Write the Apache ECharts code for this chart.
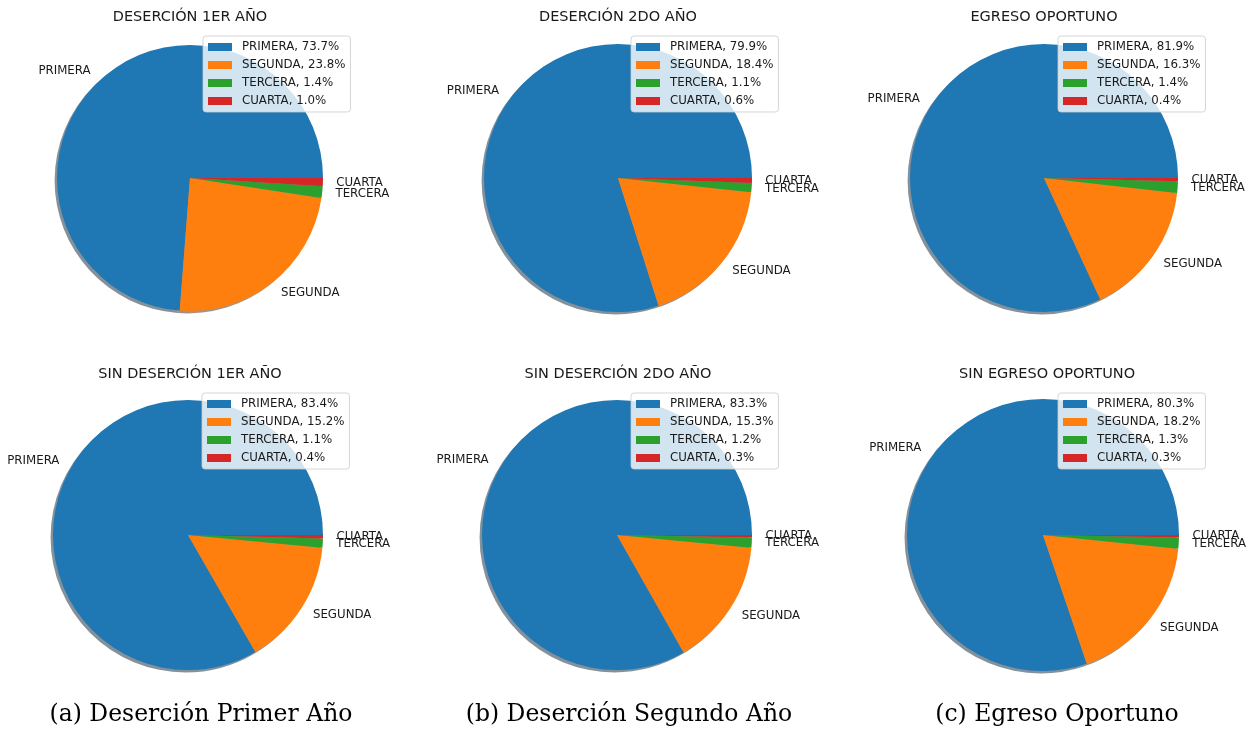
<!DOCTYPE html>
<html>
<head>
<meta charset="utf-8">
<script src="https://cdn.jsdelivr.net/npm/echarts@6/dist/echarts.min.js"></script>
<style>
  html, body { margin: 0; padding: 0; background: #ffffff; }
  #chart { width: 1251px; height: 732px; }
</style>
</head>
<body>
<div id="chart"></div>
<script>
// Categories shared by every pie
const categories = ['PRIMERA', 'SEGUNDA', 'TERCERA', 'CUARTA'];

// Shares (%) per group
const desercion1erAno    = [73.7, 23.8, 1.4, 1.0];
const desercion2doAno    = [79.9, 18.4, 1.1, 0.6];
const egresoOportuno     = [81.9, 16.3, 1.4, 0.4];
const sinDesercion1erAno = [83.4, 15.2, 1.1, 0.4];
const sinDesercion2doAno = [83.3, 15.3, 1.2, 0.3];
const sinEgresoOportuno  = [80.3, 18.2, 1.3, 0.3];

const panelTitles = [
  'DESERCIÓN 1ER AÑO', 'DESERCIÓN 2DO AÑO', 'EGRESO OPORTUNO',
  'SIN DESERCIÓN 1ER AÑO', 'SIN DESERCIÓN 2DO AÑO', 'SIN EGRESO OPORTUNO'
];
const captions = ['(a) Deserción Primer Año', '(b) Deserción Segundo Año', '(c) Egreso Oportuno'];

const colors = ['#1f77b4', '#ff7f0e', '#2ca02c', '#d62728'];

// Layout of each panel: pie centre, radius, legend box corner, title centre
const panels = [
  { values: desercion1erAno,    title: panelTitles[0], cx: 190, cy: 178, r: 133, lx: 203, ly: 36,  tx: 190,  ty: 10 },
  { values: desercion2doAno,    title: panelTitles[1], cx: 618, cy: 178, r: 134, lx: 631, ly: 36,  tx: 618,  ty: 10 },
  { values: egresoOportuno,     title: panelTitles[2], cx: 1044, cy: 178, r: 134, lx: 1058, ly: 36, tx: 1044, ty: 10 },
  { values: sinDesercion1erAno, title: panelTitles[3], cx: 188, cy: 535, r: 135, lx: 202, ly: 393, tx: 190,  ty: 367 },
  { values: sinDesercion2doAno, title: panelTitles[4], cx: 617, cy: 535, r: 135, lx: 631, ly: 393, tx: 618,  ty: 367 },
  { values: sinEgresoOportuno,  title: panelTitles[5], cx: 1043, cy: 535, r: 136, lx: 1058, ly: 393, tx: 1047, ty: 367 }
];
const captionPos = [ { x: 201, y: 703 }, { x: 629, y: 703 }, { x: 1057, y: 703 } ];

// Wedge shadow: 30% of the face colour at half opacity
function shadowColor(hex) {
  const n = parseInt(hex.slice(1), 16);
  const r = Math.round(((n >> 16) & 255) * 0.3);
  const g = Math.round(((n >> 8) & 255) * 0.3);
  const b = Math.round((n & 255) * 0.3);
  return 'rgba(' + r + ',' + g + ',' + b + ',0.5)';
}

const textColor = '#1a1a1a';
const series = [];
const legends = [];
const titles = [];

panels.forEach(function (p, i) {
  const data = categories.map(function (c, k) { return { name: c, value: p.values[k] }; });

  // offset shadow below the pie
  series.push({
    type: 'pie',
    silent: true,
    z: 1,
    legendHoverLink: false,
    center: [p.cx - 0.018 * p.r, p.cy + 0.018 * p.r],
    radius: p.r,
    startAngle: 0,
    clockwise: false,
    avoidLabelOverlap: false,
    label: { show: false },
    labelLine: { show: false },
    itemStyle: {
      borderWidth: 0,
      color: function (d) { return shadowColor(colors[d.dataIndex]); }
    },
    emphasis: { disabled: true },
    data: data.map(function (d) { return { name: d.name + ' ', value: d.value }; })
  });

  // the pie itself, labels at 1.1 × radius
  series.push({
    type: 'pie',
    z: 2,
    center: [p.cx, p.cy],
    radius: p.r,
    startAngle: 0,
    clockwise: false,
    avoidLabelOverlap: false,
    color: colors,
    itemStyle: { borderWidth: 0 },
    emphasis: { disabled: true },
    labelLayout: { hideOverlap: false, moveOverlap: null },
    label: {
      show: true,
      position: 'outside',
      formatter: '{b}',
      color: textColor,
      fontFamily: 'DejaVu Sans',
      fontSize: 11.8,
      distanceToLabelLine: 0
    },
    labelLine: { show: false, length: 0.1 * p.r, length2: 0 },
    data: data
  });

  legends.push({
    orient: 'vertical',
    left: p.lx,
    top: p.ly,
    padding: [4, 5, 4, 5],
    itemGap: 4,
    itemWidth: 24,
    itemHeight: 8,
    icon: 'rect',
    selectedMode: false,
    backgroundColor: 'rgba(255,255,255,0.8)',
    borderColor: 'rgba(204,204,204,0.8)',
    borderWidth: 1,
    borderRadius: 3,
    textStyle: {
      color: textColor,
      fontFamily: 'DejaVu Sans',
      fontSize: 11.8,
      lineHeight: 14,
      padding: [0, 0, 0, 5]
    },
    data: categories.map(function (c, k) {
      return { name: c, itemStyle: { color: colors[k] } };
    }),
    formatter: function (name) {
      const k = categories.indexOf(name);
      return name + ', ' + p.values[k].toFixed(1) + '%';
    }
  });

  titles.push({
    text: p.title,
    left: p.tx,
    top: p.ty,
    textAlign: 'center',
    padding: 0,
    textStyle: { color: textColor, fontFamily: 'DejaVu Sans', fontSize: 14.5, fontWeight: 'normal' }
  });
});

captions.forEach(function (c, i) {
  titles.push({
    text: c,
    left: captionPos[i].x,
    top: captionPos[i].y,
    textAlign: 'center',
    padding: 0,
    textStyle: { color: '#000000', fontFamily: 'DejaVu Serif', fontSize: 23.5, fontWeight: 'normal' }
  });
});

const chart = echarts.init(document.getElementById('chart'), null, { renderer: 'canvas' });
chart.setOption({
  backgroundColor: '#ffffff',
  animation: false,
  title: titles,
  legend: legends,
  series: series
});
</script>
</body>
</html>
